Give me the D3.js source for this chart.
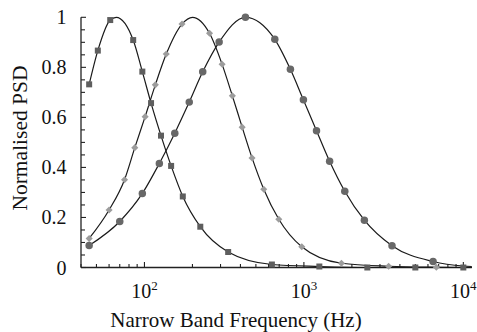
<!DOCTYPE html>
<html>
<head>
<meta charset="utf-8">
<script src="https://cdn.jsdelivr.net/npm/d3@7"></script>
<style>
  html, body { margin: 0; padding: 0; background: #fff; }
  svg { display: block; }
  text { font-family: "Liberation Serif", "Times New Roman", serif; fill: #111; }
</style>
</head>
<body>
<svg id="chart" width="477" height="332"></svg>
<script>
// ---- Data (frequencies in Hz, normalised PSD) ----
const freqSquare = [45, 51, 61, 85, 97, 110, 127, 147, 174, 224, 335, 630, 1250, 2500, 5000, 10000];
const valSquare  = [0.732, 0.867, 0.989, 0.909, 0.783, 0.657, 0.527, 0.406, 0.284, 0.163, 0.062, 0.012, 0.004, 0, 0, 0];

const freqDiamond = [45, 60, 75, 87, 101, 117, 137, 172, 256, 307, 356, 410, 473, 560, 696, 970, 1720, 3400, 6770];
const valDiamond  = [0.116, 0.230, 0.351, 0.479, 0.603, 0.730, 0.853, 0.973, 0.936, 0.812, 0.686, 0.561, 0.438, 0.313, 0.193, 0.083, 0.017, 0.005, 0.001];

const freqCircle = [45, 70, 97, 124, 155, 191, 232, 294, 430, 657, 823, 993, 1200, 1450, 1805, 2395, 3570, 6460];
const valCircle  = [0.088, 0.184, 0.296, 0.416, 0.537, 0.661, 0.782, 0.901, 1.0, 0.912, 0.792, 0.670, 0.547, 0.425, 0.305, 0.189, 0.087, 0.024];

// extra points (peaks and tails)
const curveExtraSquare  = [[66.5, 1.0], [11300, 0]];
const curveExtraDiamond = [[200, 1.0], [11300, 0]];
const curveExtraCircle  = [[10000, 0.006], [11300, 0.004]];

const xDomain = [40, 11300];
const yDomain = [0, 1];
const yMajorTicks = [0, 0.2, 0.4, 0.6, 0.8, 1];
const yTickLabels = ["0", "0.2", "0.4", "0.6", "0.8", "1"];
const xMajorTicks = [100, 1000, 10000];
const xTickExponents = ["2", "3", "4"];
const xLabel = "Narrow Band Frequency (Hz)";
const yLabel = "Normalised PSD";

// ---- Layout ----
const svg = d3.select("#chart");
const x = d3.scaleLog().domain(xDomain).range([81, 471.8]);
const y = d3.scaleLinear().domain(yDomain).range([267.5, 17.3]);

const axisColor = "#222";

// y minor ticks every 0.05
const yMinor = d3.range(0, 1.0001, 0.05).map(v => +v.toFixed(2));
// x minor ticks
const xMinor = [];
[10, 100, 1000].forEach(dec => {
  for (let k = 1; k <= 9; k++) {
    const f = dec * k;
    if (f >= xDomain[0] && f <= xDomain[1]) xMinor.push(f);
  }
});
xMinor.push(10000);

const gAxes = svg.append("g");

gAxes.append("line")
  .attr("x1", x(xDomain[0])).attr("x2", x(xDomain[0]))
  .attr("y1", y(1)).attr("y2", y(0))
  .attr("stroke", axisColor).attr("stroke-width", 1.3);
gAxes.append("line")
  .attr("x1", x(xDomain[0])).attr("x2", x(xDomain[1]))
  .attr("y1", y(0)).attr("y2", y(0))
  .attr("stroke", axisColor).attr("stroke-width", 1.3);

gAxes.selectAll(".ytick").data(yMinor).enter().append("line")
  .attr("x1", x(xDomain[0]))
  .attr("x2", d => x(xDomain[0]) + (yMajorTicks.some(m => Math.abs(m - d) < 1e-6) ? 5 : 4))
  .attr("y1", d => y(d)).attr("y2", d => y(d))
  .attr("stroke", axisColor).attr("stroke-width", 1.1);

gAxes.selectAll(".xtick").data(xMinor).enter().append("line")
  .attr("x1", d => x(d)).attr("x2", d => x(d))
  .attr("y1", y(0))
  .attr("y2", d => y(0) - (xMajorTicks.includes(d) ? 5.5 : 3.5))
  .attr("stroke", axisColor).attr("stroke-width", 1.1);

gAxes.selectAll(".ylab").data(yMajorTicks).enter().append("text")
  .attr("x", 66.5)
  .attr("y", d => y(d))
  .attr("dy", "0.35em")
  .attr("text-anchor", "end")
  .attr("font-size", 20)
  .text((d, i) => yTickLabels[i]);

xMajorTicks.forEach((t, i) => {
  const txt = gAxes.append("text")
    .attr("x", x(t))
    .attr("y", 298)
    .attr("text-anchor", "middle")
    .attr("font-size", 20);
  txt.append("tspan").text("10");
  txt.append("tspan").attr("dy", -8).attr("font-size", 13).text(xTickExponents[i]);
});

svg.append("text")
  .attr("x", 236).attr("y", 327)
  .attr("text-anchor", "middle")
  .attr("font-size", 21)
  .text(xLabel);
svg.append("text")
  .attr("transform", "translate(27,138) rotate(-90)")
  .attr("text-anchor", "middle")
  .attr("font-size", 21.5)
  .text(yLabel);

// ---- Series ----
const series = [
  { f: freqSquare,  v: valSquare,  extra: curveExtraSquare,  shape: "square",  color: "#5e5e5e" },
  { f: freqDiamond, v: valDiamond, extra: curveExtraDiamond, shape: "diamond", color: "#9c9c9c" },
  { f: freqCircle,  v: valCircle,  extra: curveExtraCircle,  shape: "circle",  color: "#686868" }
];

const line = d3.line()
  .x(d => x(d[0]))
  .y(d => y(d[1]))
  .curve(d3.curveMonotoneX);

const gLines = svg.append("g");
const gMarks = svg.append("g");

series.forEach(s => {
  const pts = s.f.map((f, i) => [f, s.v[i]]);
  const curvePts = pts.concat(s.extra).sort((a, b) => a[0] - b[0]);
  gLines.append("path")
    .attr("d", line(curvePts))
    .attr("fill", "none")
    .attr("stroke", "#1a1a1a")
    .attr("stroke-width", 1.2);

  let sym;
  if (s.shape === "square") sym = d3.symbol(d3.symbolSquare, 36);
  else if (s.shape === "diamond") sym = d3.symbol(d3.symbolSquare, 25);
  else sym = d3.symbol(d3.symbolCircle, 44);

  gMarks.selectAll(null).data(pts).enter().append("path")
    .attr("d", sym())
    .attr("transform", d => `translate(${x(d[0])},${y(d[1])})` + (s.shape === "diamond" ? " rotate(45)" : ""))
    .attr("fill", s.color);
});
</script>
</body>
</html>
